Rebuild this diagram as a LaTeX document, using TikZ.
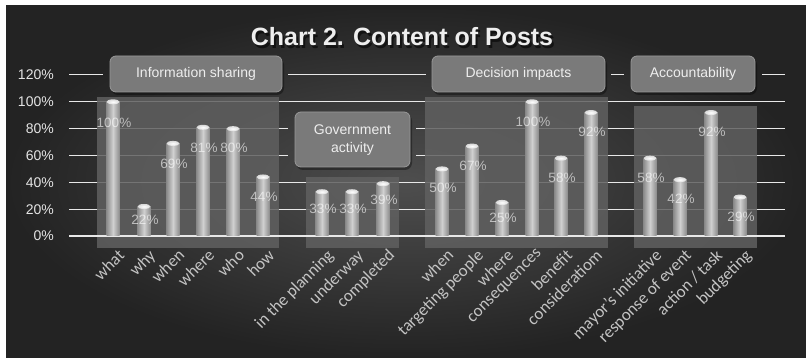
\documentclass[tikz,border=0pt]{standalone}
\usepackage{fontspec}
\setmainfont{Liberation Sans}
\newfontfamily\catfont{Carlito}
\definecolor{bgin}{HTML}{4E4E4E}
\definecolor{bgout}{HTML}{232323}
\definecolor{gridc}{HTML}{E8E8E8}
\definecolor{panelc}{HTML}{606060}
\definecolor{hdrfill}{HTML}{7A7A7A}
\definecolor{hdrline}{HTML}{999999}
\definecolor{hdrtxt}{HTML}{EEEEEE}
\definecolor{ylabc}{HTML}{E4E4E4}
\definecolor{catc}{HTML}{C4C4C4}
\definecolor{barside}{HTML}{8C8C8C}
\definecolor{barmid}{HTML}{D0D0D0}
\begin{document}
\begin{tikzpicture}[x=1pt,y=-1pt,
  gridln/.style={draw=gridc, line width=1pt},
  panel/.style={fill=panelc, fill opacity=0.85},
  hdr/.style={draw=hdrline, fill=hdrfill, rounded corners=6pt, line width=0.8pt},
  hdrshadow/.style={fill=black, fill opacity=0.35, rounded corners=7pt},
  hdrtext/.style={text=hdrtxt, font=\fontsize{14}{18}\selectfont, align=center, inner sep=0pt},
  ylab/.style={anchor=east, text=ylabc, font=\fontsize{14}{16}\selectfont, inner sep=0pt},
  vlab/.style={text=white, text opacity=0.6, font=\fontsize{13.5}{16}\selectfont, inner sep=0pt},
  catlab/.style={anchor=north east, rotate=45, text=catc, font=\catfont\fontsize{17}{19}\selectfont, inner sep=0pt},
]
\useasboundingbox (0,0) rectangle (806,358);
\fill[white] (0,0) rectangle (806,358);
\shade[inner color=bgin, outer color=bgout] (6,6) rectangle (806,358);

% title
\node[text=black, text opacity=0.55, font=\bfseries\fontsize{25}{28}\selectfont] (titleshadow) at (404,39.5) {Chart 2. Content of Posts};
\node[text=hdrtxt, font=\bfseries\fontsize{25}{28}\selectfont] (title) at (402,37) {Chart 2. Content of Posts};

% y labels
\foreach \v/\y in {0/236,20/209.2,40/182.3,60/155.5,80/128.7,100/101.8,120/75}
  \node[ylab] (y\v) at (54,\y) {\v\%};

% grid lines
\draw[gridln] (69,75)--(103,75) (288,75)--(426,75) (611,75)--(624,75) (762,75)--(785,75);
\draw[gridln] (69,101.8)--(785,101.8);
\draw[gridln] (69,128.7)--(288,128.7) (416,128.7)--(785,128.7);
\draw[gridln] (69,155.5)--(288,155.5) (416,155.5)--(785,155.5);
\draw[gridln] (69,182.3)--(785,182.3);
\draw[gridln] (69,209.2)--(785,209.2);

% panels
\fill[panel] (97,97) rectangle (279,248);
\fill[panel] (306,177) rectangle (399,248);
\fill[panel] (425,97) rectangle (608,248);
\fill[panel] (634,106) rectangle (757,248);

% zero axis
\draw[gridln, line width=1.3pt] (69,236)--(785,236);

% bars
\foreach \n/\x/\v/\ly in {a1/113/100/123, a2/144/22/220, a3/173/69/164, a4/203/81/148, a5/233/80/148, a6/263/44/197,
  b1/322/33/209, b2/352/33/209, b3/383/39/200,
  c1/442/50/188, c2/472/67/166, c3/502/25/218, c4/532/100/122, c5/561/58/178, c6/591/92/132,
  d1/650/58/178, d2/680/42/199, d3/711/92/132, d4/740/29/217}{
  \pgfmathsetmacro\bartop{236-\v*1.3417}
  \shade[left color=barside, right color=barside, middle color=barmid] (\x-6.5,\bartop) rectangle (\x+6.5,236);
  \shade[inner color=white, outer color=barmid!80!white] (\x,\bartop) ellipse [x radius=6.5pt, y radius=2.5pt];
}
\foreach \n/\x/\v/\ly in {a1/113/100/123, a2/144/22/220, a3/173/69/164, a4/203/81/148, a5/233/80/148, a6/263/44/197,
  b1/322/33/209, b2/352/33/209, b3/383/39/200,
  c1/442/50/188, c2/472/67/166, c3/502/25/218, c4/532/100/122, c5/561/58/178, c6/591/92/132,
  d1/650/58/178, d2/680/42/199, d3/711/92/132, d4/740/29/217}
  \node[vlab] (v\n) at (\x+1,\ly) {\v\%};

% category labels
\foreach \n/\x/\t in {a1/113/what, a2/144/why, a3/173/when, a4/203/where, a5/233/who, a6/263/how,
  b1/322/in the planning, b2/352/underway, b3/383/completed,
  c1/442/when, c2/472/targeting people, c3/502/where, c4/532/consequences, c5/561/benefit, c6/591/consideratiom,
  d1/650/mayor’s initiative, d2/680/response of event, d4/740/budgeting}
  \node[catlab] (k\n) at (\x+4,248) {\t};
\node[catlab] (kd3) at (715,248) {action / task};

% header boxes
\fill[hdrshadow] (111,58) rectangle (284,95);
\draw[hdr] (110,56) rectangle (282,92);
\node[hdrtext] (hinfo) at (196,74) {Information sharing};

\fill[hdrshadow] (296,114) rectangle (412,170);
\draw[hdr] (295,112) rectangle (410,167);
\node[hdrtext] (hgov) at (352.5,140) {Government\\activity};

\fill[hdrshadow] (433,58) rectangle (607,95);
\draw[hdr] (432,56) rectangle (605,92);
\node[hdrtext] (hdec) at (518.5,74) {Decision impacts};

\fill[hdrshadow] (632,58) rectangle (757,95);
\draw[hdr] (631,56) rectangle (755,92);
\node[hdrtext] (hacc) at (693,74) {Accountability};
\end{tikzpicture}
\end{document}
